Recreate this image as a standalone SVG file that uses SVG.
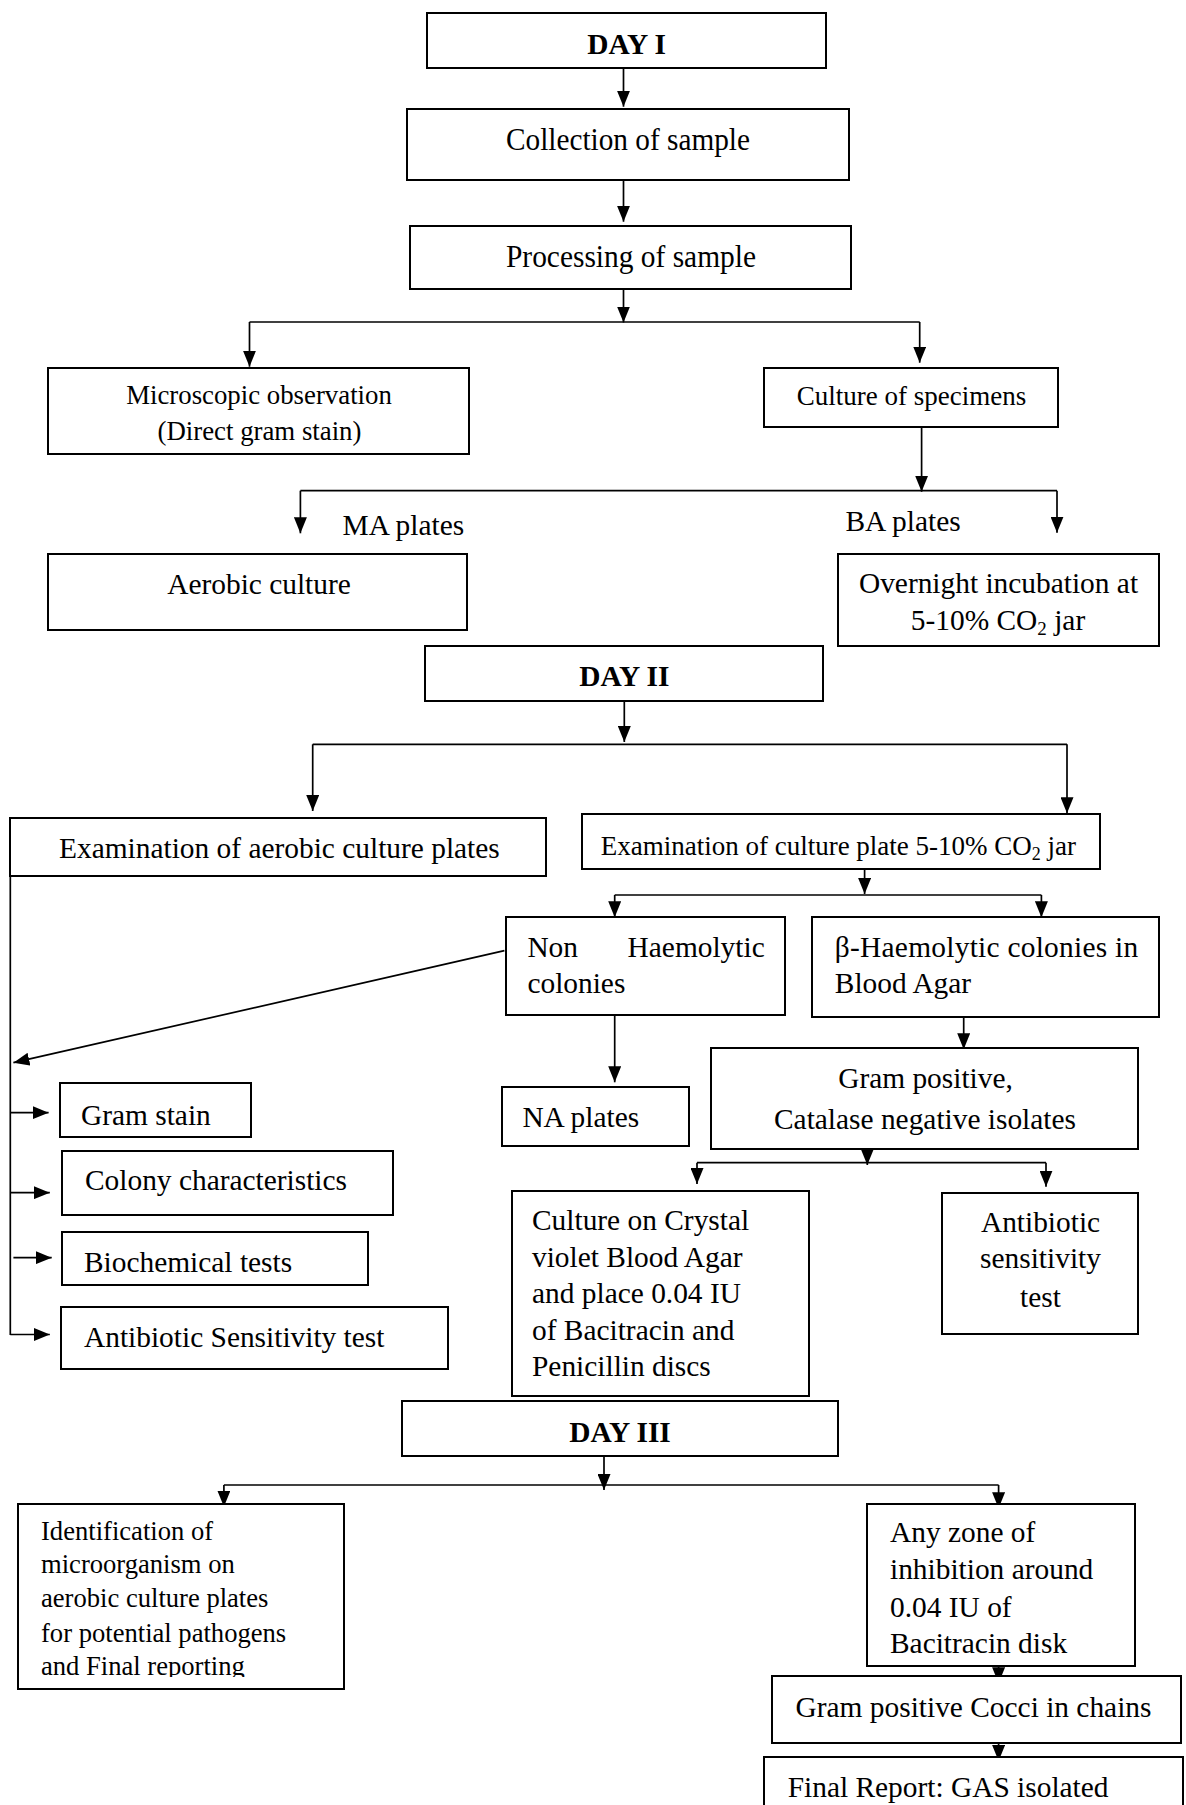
<svg xmlns="http://www.w3.org/2000/svg" width="1186" height="1805" viewBox="0 0 1186 1805">
<style>
.bx{fill:#fff;stroke:#000;stroke-width:2}
.t{font-family:"Liberation Serif","Times New Roman",serif;font-size:29.4px;fill:#000}
.c{text-anchor:middle}
.e{text-anchor:end}
.b{font-weight:bold}
.s{font-size:27px}
.ln{fill:none;stroke:#000;stroke-width:1.7}
.ar{fill:none;stroke:#000;stroke-width:1.7;marker-end:url(#ah)}
</style>
<defs>
<marker id="ah" markerUnits="userSpaceOnUse" viewBox="0 0 16 13" markerWidth="16" markerHeight="13" refX="16" refY="6.5" orient="auto">
<path d="M0,0 L16,6.5 L0,13 z" fill="#000"/>
</marker>
<clipPath id="idclip"><rect x="0" y="1490" width="360" height="187"/></clipPath>
</defs>

<g id="connectors">
<path class="ar" d="M623.5,68 V106.7"/>
<path class="ar" d="M623.5,180 V221.7"/>
<path class="ar" d="M623.5,289 V322.5"/>
<path class="ln" d="M249.5,322 H919.7"/>
<path class="ar" d="M249.5,322 V366.7"/>
<path class="ar" d="M919.7,322 V362.7"/>
<path class="ar" d="M921.6,427 V491.7"/>
<path class="ln" d="M300.4,490.7 H1057"/>
<path class="ar" d="M300.4,490.7 V533.3"/>
<path class="ar" d="M1057,490.7 V532.7"/>
<path class="ar" d="M624.3,701 V742"/>
<path class="ln" d="M312.7,744.3 H1067"/>
<path class="ar" d="M312.7,744.3 V811"/>
<path class="ar" d="M1067,744.3 V813.3"/>
<path class="ln" d="M10.3,876 V1335"/>
<path class="ar" d="M10.3,1112.7 H48.6"/>
<path class="ar" d="M10.3,1192.7 H49.8"/>
<path class="ar" d="M13.4,1257.7 H51.7"/>
<path class="ar" d="M10.3,1334.5 H49.8"/>
<path class="ar" d="M504.4,950.7 L13.4,1062.7"/>
<path class="ar" d="M864.6,867 V894"/>
<path class="ln" d="M614.7,895 H1041.4"/>
<path class="ar" d="M614.7,895 V917.3"/>
<path class="ar" d="M1041.4,895 V917.3"/>
<path class="ar" d="M614.7,1015 V1082.3"/>
<path class="ar" d="M963.7,1018 V1049.3"/>
<path class="ar" d="M867.3,1149 V1165"/>
<path class="ln" d="M697,1162.7 H1046"/>
<path class="ar" d="M697,1162.7 V1184"/>
<path class="ar" d="M1046,1162.7 V1186.7"/>
<path class="ar" d="M604,1456 V1490"/>
<path class="ln" d="M223.9,1485 H998.6"/>
<path class="ar" d="M223.9,1485 V1506.7"/>
<path class="ar" d="M998.6,1485 V1508.3"/>
<path class="ar" d="M998.6,1662 V1683.3"/>
<path class="ar" d="M998.6,1740 V1761"/>
</g>

<g id="day1"><rect class="bx" x="427" y="13" width="399" height="55"/><text class="t c b" x="626.5" y="54">DAY I</text></g>
<g id="collection"><rect class="bx" x="407" y="109" width="442" height="71"/><text class="t c" style="font-size:31px" x="628" y="150" textLength="244" lengthAdjust="spacingAndGlyphs">Collection of sample</text></g>
<g id="processing"><rect class="bx" x="410" y="226" width="441" height="63"/><text class="t c" style="font-size:31px" x="631" y="267" textLength="250" lengthAdjust="spacingAndGlyphs">Processing of sample</text></g>
<g id="microscopic"><rect class="bx" x="48" y="368" width="421" height="86"/><text class="t c" style="font-size:26.8px" x="259" y="404">Microscopic observation</text><text class="t c" style="font-size:26.8px" x="259.5" y="440">(Direct gram stain)</text></g>
<g id="culture"><rect class="bx" x="764" y="368" width="294" height="59"/><text class="t c s" x="911.5" y="405">Culture of specimens</text></g>

<g id="ma-label"><text class="t" x="342.5" y="535">MA plates</text></g>
<g id="ba-label"><text class="t" x="845.5" y="531">BA plates</text></g>

<g id="aerobic"><rect class="bx" x="48" y="554" width="419" height="76"/><text class="t c" x="259" y="594">Aerobic culture</text></g>
<g id="overnight"><rect class="bx" x="838" y="554" width="321" height="92"/><text class="t c" x="998.5" y="593">Overnight incubation at</text><text class="t c" x="998" y="630">5-10% CO<tspan font-size="19" dy="5">2</tspan><tspan dy="-5"> jar</tspan></text></g>

<g id="day2"><rect class="bx" x="425" y="646" width="398" height="55"/><text class="t c b" x="624.4" y="686">DAY II</text></g>
<g id="exam-aerobic"><rect class="bx" x="10" y="818" width="536" height="58"/><text class="t c" x="279.4" y="858">Examination of aerobic culture plates</text></g>
<g id="exam-co2"><rect class="bx" x="582" y="814" width="518" height="55"/><text class="t c s" x="838.4" y="855">Examination of culture plate 5-10% CO<tspan font-size="18" dy="5">2</tspan><tspan dy="-5"> jar</tspan></text></g>

<g id="non-haemolytic"><rect class="bx" x="506" y="917" width="279" height="98"/><text class="t" x="527.4" y="956.7">Non</text><text class="t e" x="764.7" y="956.7">Haemolytic</text><text class="t" x="527.4" y="993.3">colonies</text></g>
<g id="beta-haemolytic"><rect class="bx" x="812" y="917" width="347" height="100"/><text class="t" x="834.8" y="956.7" textLength="303.4" lengthAdjust="spacing">β-Haemolytic colonies in</text><text class="t" x="834.8" y="993.3">Blood Agar</text></g>

<g id="gram-stain"><rect class="bx" x="60" y="1083" width="191" height="54"/><text class="t" x="81" y="1125">Gram stain</text></g>
<g id="na-plates"><rect class="bx" x="502" y="1087" width="187" height="59"/><text class="t" x="522.4" y="1126.7">NA plates</text></g>
<g id="gram-positive"><rect class="bx" x="711" y="1048" width="427" height="101"/><text class="t c" x="925.5" y="1088.3">Gram positive,</text><text class="t c" x="925" y="1129.3">Catalase negative isolates</text></g>
<g id="colony"><rect class="bx" x="62" y="1151" width="331" height="64"/><text class="t" x="85" y="1190">Colony characteristics</text></g>
<g id="biochemical"><rect class="bx" x="62" y="1232" width="306" height="53"/><text class="t" x="84" y="1271.7">Biochemical tests</text></g>
<g id="antibiotic-left"><rect class="bx" x="61" y="1307" width="387" height="62"/><text class="t" x="84" y="1346.7">Antibiotic Sensitivity test</text></g>

<g id="crystal-violet"><rect class="bx" x="512" y="1191" width="297" height="205"/>
<text class="t" x="532" y="1230">Culture on Crystal</text>
<text class="t" x="532" y="1266.6">violet Blood Agar</text>
<text class="t" x="532" y="1303.2">and place 0.04 IU</text>
<text class="t" x="532" y="1339.8">of Bacitracin and</text>
<text class="t" x="532" y="1376.4">Penicillin discs</text></g>
<g id="antibiotic-right"><rect class="bx" x="942" y="1193" width="196" height="141"/>
<text class="t c" x="1040.5" y="1231.7">Antibiotic</text>
<text class="t c" x="1040.5" y="1268.3">sensitivity</text>
<text class="t c" x="1040.5" y="1306.7">test</text></g>

<g id="day3"><rect class="bx" x="402" y="1401" width="436" height="55"/><text class="t c b" x="620" y="1441.7">DAY III</text></g>

<g id="identification"><rect class="bx" x="18" y="1504" width="326" height="185"/>
<g clip-path="url(#idclip)">
<text class="t" style="font-size:26.6px" x="41" y="1540">Identification of</text>
<text class="t" style="font-size:26.6px" x="41" y="1573.3">microorganism on</text>
<text class="t" style="font-size:26.6px" x="41" y="1606.7">aerobic culture plates</text>
<text class="t" style="font-size:26.6px" x="41" y="1641.7">for potential pathogens</text>
<text class="t" style="font-size:26.6px" x="41" y="1675">and Final reporting</text>
</g></g>

<g id="zone-inhibition"><rect class="bx" x="867" y="1504" width="268" height="162"/>
<text class="t" x="890" y="1541.7">Any zone of</text>
<text class="t" x="890" y="1579.3">inhibition around</text>
<text class="t" x="890" y="1616.7">0.04 IU of</text>
<text class="t" x="890" y="1653.3">Bacitracin disk</text></g>

<g id="gram-cocci"><rect class="bx" x="772" y="1676" width="409" height="67"/><text class="t c" x="973.5" y="1716.7">Gram positive Cocci in chains</text></g>
<g id="final-report"><rect class="bx" x="764" y="1757" width="419" height="60"/><text class="t" x="787.7" y="1796.7">Final Report: GAS isolated</text></g>
</svg>
